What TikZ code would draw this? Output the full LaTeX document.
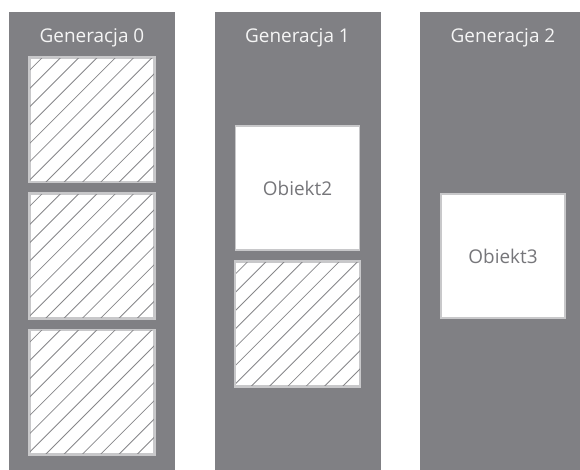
\documentclass[tikz,border=0pt]{standalone}
\usepackage{fontspec}
\setmainfont{Open Sans}
\definecolor{colgray}{RGB}{128,128,132}
\definecolor{boxedge}{RGB}{200,200,202}
\definecolor{hatchgray}{RGB}{135,135,138}
\definecolor{objtext}{RGB}{118,118,122}
\definecolor{titletext}{RGB}{245,245,245}
\tikzset{
  col/.style={fill=colgray, inner sep=0pt, minimum width=166bp, minimum height=458bp, anchor=north},
  coltitle/.style={text=titletext, font=\fontsize{19}{22}\selectfont, inner sep=0pt},
  objbox/.style={fill=white, draw=boxedge, line width=1.5bp, inner sep=0pt, minimum size=124bp,
     text=objtext, font=\fontsize{19}{22}\selectfont},
  hatchline/.style={draw=hatchgray, line width=0.8bp}
}
\newcommand{\hatchbox}[1]{%
  \begin{scope}
    \clip (#1.south west) rectangle (#1.north east);
    \foreach \k in {-8,...,8}
      \draw[hatchline] ($(#1.south west)+(\k*18.3+16,0)$) -- ++(140,-140);
  \end{scope}
  \draw[boxedge, line width=1.5bp] (#1.south west) rectangle (#1.north east);
}
\usetikzlibrary{calc}
\begin{document}
\begin{tikzpicture}[x=1bp,y=-1bp]
\clip (0,0) rectangle (580,470);
\fill[white] (0,0) rectangle (580,470);
% columns
\node[col] (c0) at (92,12) {};
\node[col] (c1) at (297.5,12) {};
\node[col] (c2) at (503,12) {};
% titles
\node[coltitle] (t0) at (92,38) {Generacja 0};
\node[coltitle] (t1) at (297.5,38) {Generacja 1};
\node[coltitle] (t2) at (503,38) {Generacja 2};
% generation 0
\node[objbox] (a1) at (92,120) {};
\node[objbox] (a2) at (92,256) {};
\node[objbox] (a3) at (92,392) {};
\hatchbox{a1}
\hatchbox{a2}
\hatchbox{a3}
% generation 1
\node[objbox] (b1) at (297.5,188) {Obiekt2};
\node[objbox] (b2) at (297.5,324) {};
\hatchbox{b2}
% generation 2
\node[objbox] (d1) at (503,256) {Obiekt3};
\end{tikzpicture}
\end{document}
